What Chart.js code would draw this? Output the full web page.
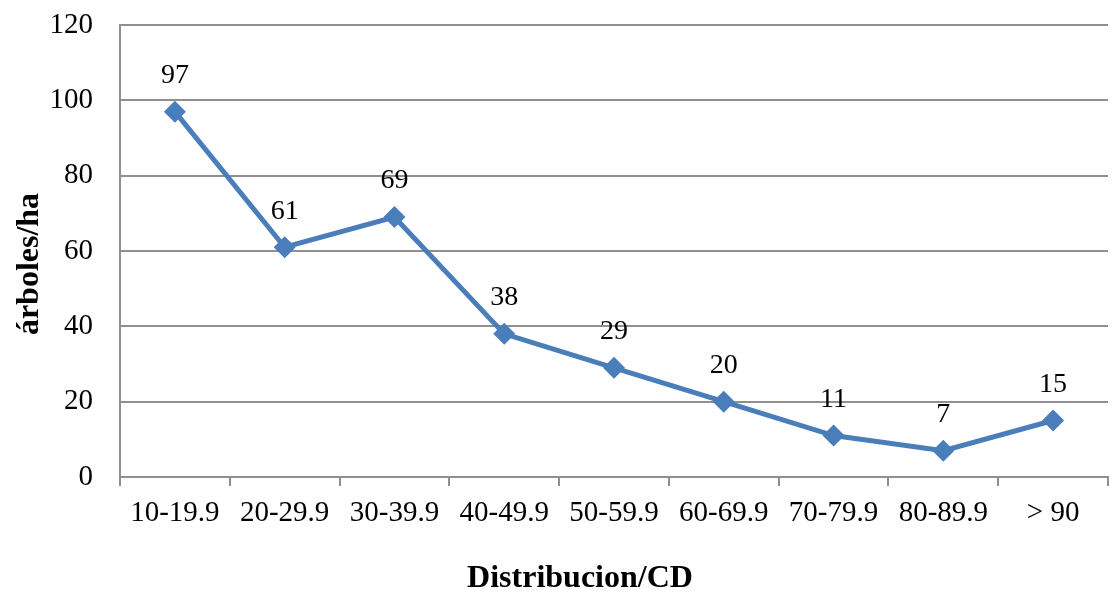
<!DOCTYPE html>
<html>
<head>
<meta charset="utf-8">
<script src="https://cdn.jsdelivr.net/npm/chart.js@4/dist/chart.umd.min.js"></script>
<style>
  html, body { margin: 0; padding: 0; background: #fff; overflow: hidden; }
  #wrap { width: 1119px; height: 592px; }
</style>
</head>
<body>
<div id="wrap"><canvas id="mycanvas"></canvas></div>
<script>
// values
var categorias = ['10-19.9', '20-29.9', '30-39.9', '40-49.9', '50-59.9', '60-69.9', '70-79.9', '80-89.9', '> 90'];
var arboles = [97, 61, 69, 38, 29, 20, 11, 7, 15];
var yTicks = [0, 20, 40, 60, 80, 100, 120];

var tituloX = 'Distribucion/CD';
var tituloY = 'árboles/ha';

var serif = "'Liberation Serif', 'Times New Roman', serif";
var gris = '#8f8f8f';

// numbers above each point + the two axis titles
var etiquetas = {
	id: 'etiquetas',
	afterDatasetsDraw: function(chart) {
		var ctx = chart.ctx;
		var meta = chart.getDatasetMeta(0);
		ctx.save();
		ctx.fillStyle = '#000';
		ctx.font = '28px ' + serif;
		ctx.textAlign = 'center';
		ctx.textBaseline = 'middle';
		meta.data.forEach(function(pt, i) {
			ctx.fillText(String(arboles[i]), pt.x, pt.y - 36);
		});

		ctx.font = 'bold 32px ' + serif;
		ctx.fillText(tituloX, 580, 579);

		ctx.translate(30, 264);
		ctx.rotate(-Math.PI / 2);
		ctx.fillText(tituloY, 0, 0);
		ctx.restore();
	}
};

var chartdata = {
	labels: categorias,
	datasets: [
		{
			label: tituloY,
			fill: false,
			lineTension: 0,
			borderColor: '#4A7EBB',
			backgroundColor: '#4A7EBB',
			borderWidth: 5,
			pointStyle: 'rectRot',
			pointRadius: 11,
			pointHoverRadius: 11,
			pointBorderWidth: 0,
			data: arboles
		}
	]
};

var ctx = document.getElementById('mycanvas');

var LineGraph = new Chart(ctx, {
	type: 'line',
	data: chartdata,
	options: {
		responsive: true,
		maintainAspectRatio: false,
		animation: false,
		events: [],
		layout: { padding: { top: 25, right: 0, bottom: 0, left: 0 } },
		plugins: {
			legend: { display: false },
			tooltip: { enabled: false }
		},
		scales: {
			x: {
				offset: true,
				grid: {
					offset: true,
					drawOnChartArea: false,
					drawTicks: true,
					tickLength: 9,
					color: gris,
					lineWidth: 2
				},
				border: { display: true, color: gris, width: 2 },
				ticks: {
					color: '#000',
					font: { family: serif, size: 29 },
					padding: 10,
					maxRotation: 0,
					autoSkip: false
				},
				afterFit: function(scale) { scale.height = 115; }
			},
			y: {
				min: 0,
				max: 120,
				afterBuildTicks: function(scale) {
					scale.ticks = yTicks.map(function(v) { return { value: v }; });
				},
				grid: {
					drawTicks: false,
					color: gris,
					lineWidth: 2
				},
				border: { display: true, color: gris, width: 2 },
				ticks: {
					color: '#000',
					font: { family: serif, size: 29 },
					padding: 27
				},
				afterFit: function(scale) {
					scale.width = 120;
					scale.paddingTop = 0;
					scale.paddingBottom = 0;
				}
			}
		}
	},
	plugins: [etiquetas]
});
</script>
</body>
</html>
